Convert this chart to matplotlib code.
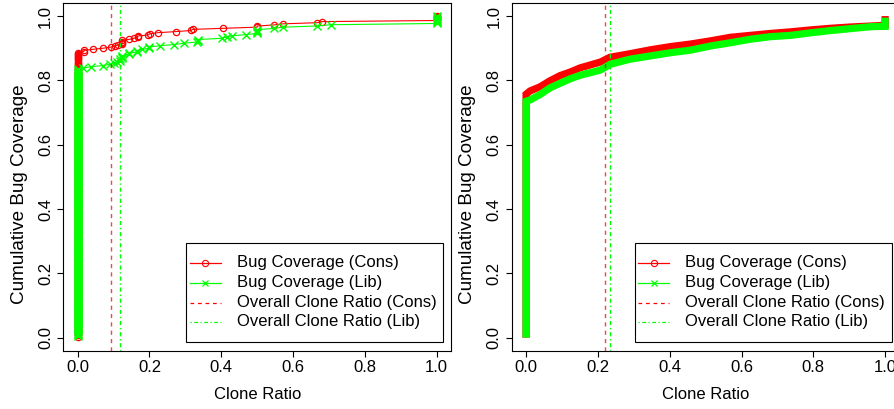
import numpy as np
import matplotlib
matplotlib.use("Agg")
import matplotlib.pyplot as plt
from matplotlib.lines import Line2D
from matplotlib.patches import Rectangle

plt.rcParams["font.family"] = ["Liberation Sans", "DejaVu Sans"]

# ---- Left panel: number of bugs at each distinct clone ratio ----
cons_ratio_left = [0.0, 0.0175, 0.042, 0.071, 0.092, 0.104, 0.113, 0.124, 0.144,
                   0.157, 0.167, 0.197, 0.201, 0.223, 0.274, 0.316, 0.32, 0.406,
                   0.5, 0.547, 0.571, 0.667, 0.68, 1.0]
cons_count_left = [257, 2, 1, 1, 1, 1, 1, 4, 1,
                   1, 2, 1, 1, 1, 1, 1, 1, 1,
                   2, 1, 1, 1, 1, 5]

lib_ratio_left = [0.0, 0.016, 0.036, 0.07, 0.09, 0.102, 0.11, 0.118, 0.124, 0.144,
                  0.166, 0.178, 0.2, 0.229, 0.269, 0.296, 0.331, 0.334, 0.401,
                  0.415, 0.429, 0.469, 0.5, 0.547, 0.571, 0.667, 0.705, 1.0]
lib_count_left = [217, 1, 1, 1, 1, 1, 1, 2, 3, 2,
                  2, 1, 2, 1, 1, 1, 1, 2, 1,
                  1, 1, 1, 4, 1, 1, 1, 1, 7]

overall_cons_left = 0.094
overall_lib_left = 0.118

# ---- Right panel: cumulative coverage curve (dense per-bug points) ----
cons_ratio_right = [0.0, 0.0, 0.011, 0.039, 0.067, 0.095, 0.123, 0.151, 0.179,
                    0.207, 0.234, 0.29, 0.346, 0.402, 0.458, 0.514, 0.569, 0.625,
                    0.681, 0.737, 0.793, 0.848, 0.904, 0.96, 0.993, 1.0, 1.0]
cons_cov_right = [0.0, 0.757, 0.767, 0.78, 0.799, 0.815, 0.826, 0.839, 0.848,
                  0.857, 0.872, 0.883, 0.895, 0.905, 0.913, 0.923, 0.934, 0.94,
                  0.946, 0.951, 0.957, 0.962, 0.966, 0.969, 0.971, 0.972, 1.0]

lib_ratio_right = [0.0, 0.0, 0.011, 0.039, 0.067, 0.095, 0.123, 0.151, 0.179,
                   0.207, 0.234, 0.29, 0.346, 0.402, 0.458, 0.514, 0.569, 0.625,
                   0.681, 0.737, 0.793, 0.848, 0.904, 0.96, 0.993, 1.0, 1.0]
lib_cov_right = [0.0, 0.735, 0.739, 0.756, 0.777, 0.791, 0.805, 0.816, 0.824,
                 0.832, 0.85, 0.866, 0.876, 0.886, 0.894, 0.907, 0.917, 0.928,
                 0.936, 0.94, 0.948, 0.955, 0.961, 0.967, 0.968, 0.968, 0.995]

overall_cons_right = 0.2205
overall_lib_right = 0.2326

tick_values = [0.0, 0.2, 0.4, 0.6, 0.8, 1.0]
tick_labels = ["0.0", "0.2", "0.4", "0.6", "0.8", "1.0"]
legend_labels = ["Bug Coverage (Cons)", "Bug Coverage (Lib)",
                 "Overall Clone Ratio (Cons)", "Overall Clone Ratio (Lib)"]

RED = "#FF0000"
GREEN = "#00FF00"
FS = 12
FS_YLAB = 13.6

W, H = 895, 409
fig = plt.figure(figsize=(W / 100, H / 100), dpi=100)


def axes_px(x0, x1, ytop, ybot):
    return fig.add_axes([x0 / W, 1 - ybot / H, (x1 - x0) / W, (ybot - ytop) / H])


def cdf(ratios, counts):
    xs = np.repeat(np.asarray(ratios, float), counts)
    ys = np.arange(1, len(xs) + 1) / len(xs)
    return xs, ys


def style_axes(ax):
    ax.set_xlim(-0.04, 1.04)
    ax.set_ylim(-0.04, 1.04)
    ax.set_xticks(tick_values)
    ax.set_xticklabels(tick_labels)
    ax.set_yticks(tick_values)
    ax.set_yticklabels(tick_labels, rotation=90, va="center")
    ax.tick_params(direction="out", length=4.3, width=0.8, labelsize=FS, colors="black")
    ax.tick_params(axis="x", pad=2.5)
    ax.tick_params(axis="y", pad=3.0)
    for s in ax.spines.values():
        s.set_linewidth(0.8)
        s.set_color("black")
    ax.set_xlabel("Clone Ratio", fontsize=FS, va="center")
    ax.xaxis.set_label_coords(0.5, -0.128)
    ax.set_ylabel("Cumulative Bug Coverage", fontsize=FS_YLAB, va="center")
    ax.yaxis.set_label_coords(-0.114, 0.45)


def draw_legend(ax):
    x0, x1, y0, y1 = 0.317, 0.98, 0.0236, 0.3087
    ax.add_patch(Rectangle((x0, y0), x1 - x0, y1 - y0, transform=ax.transAxes,
                           facecolor="white", edgecolor="black", lw=0.8, zorder=6))
    rows = [0.2528, 0.1952, 0.1376, 0.0829]
    hx0, hx1, hm, tx = 0.3267, 0.4059, 0.3663, 0.4471
    styles = [
        dict(color=RED, ls="-", marker="o", mfc="none", ms=4.5, mew=0.8),
        dict(color=GREEN, ls="-", marker="x", ms=5.0, mew=0.9),
        dict(color=RED, ls=(0, (3, 3))),
        dict(color=GREEN, ls=(0, (1, 2, 3, 2))),
    ]
    for y, st, lab in zip(rows, styles, legend_labels):
        mk = {k: st[k] for k in ("marker", "mfc", "ms", "mew") if k in st}
        ax.add_line(Line2D([hx0, hx1], [y, y], transform=ax.transAxes,
                           color=st["color"], ls=st["ls"], lw=0.9, zorder=7))
        if mk:
            ax.add_line(Line2D([hm], [y], transform=ax.transAxes, ls="none",
                               color=st["color"], zorder=7, **mk))
        ax.text(tx, y, lab, transform=ax.transAxes, fontsize=FS, va="center",
                ha="left", zorder=7)


# Left panel
ax1 = axes_px(63.3, 451.1, 3.2, 350.5)
cx, cy = cdf(cons_ratio_left, cons_count_left)
lx, ly = cdf(lib_ratio_left, lib_count_left)
ax1.plot(cx, cy, color=RED, lw=0.8, marker="o", mfc="none", ms=4.5, mew=0.9)
ax1.plot(lx, ly, color=GREEN, lw=0.8, marker="x", ms=5.2, mew=1.0)
ax1.axvline(overall_cons_left, color=RED, lw=1.0, ls=(0, (3, 3)), alpha=0.75)
ax1.axvline(overall_lib_left, color=GREEN, lw=1.0, ls=(0, (1, 2, 3, 2)))
style_axes(ax1)
draw_legend(ax1)

# Right panel
ax2 = axes_px(511.7, 899.5, 3.2, 350.5)
ax2.plot(cons_ratio_right, cons_cov_right, color=RED, lw=5.2,
         solid_joinstyle="miter", solid_capstyle="butt")
ax2.plot(lib_ratio_right, lib_cov_right, color=GREEN, lw=5.2,
         solid_joinstyle="miter", solid_capstyle="butt")
ax2.axvline(overall_cons_right, color=RED, lw=1.0, ls=(0, (3, 3)), alpha=0.75)
ax2.axvline(overall_lib_right, color=GREEN, lw=1.0, ls=(0, (1, 2, 3, 2)))
style_axes(ax2)
draw_legend(ax2)

fig.savefig("out.png", dpi=100)
